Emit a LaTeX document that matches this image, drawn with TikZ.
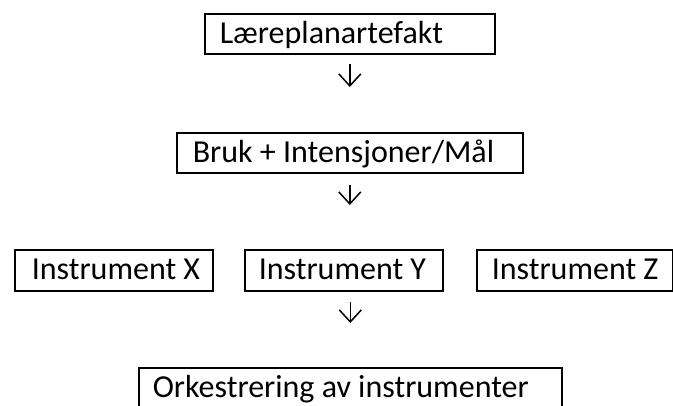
\documentclass[tikz,border=0pt]{standalone}
\usepackage{fontspec}
\setmainfont{Carlito}
\usetikzlibrary{arrows.meta,calc}
\begin{document}
\begin{tikzpicture}[x=1pt,y=-1pt,
  box/.style={draw, line width=1.6pt, anchor=north west, inner ysep=0pt,
    text height=22pt, text depth=3pt, font=\fontsize{32}{38}\selectfont},
  arr/.style={line width=1.5pt, -{Straight Barb[length=12pt,width=22pt]}}]
\clip (0,0) rectangle (673,405);
\fill[white] (0,0) rectangle (673,405);
\node[box, inner xsep=15pt, minimum height=40pt] (b1) at (204,13) {\makebox[260pt][l]{Læreplanartefakt}};
\node[box, inner xsep=16pt, minimum height=40pt] (b2) at (176,132) {\makebox[314pt][l]{Bruk + Intensjoner/Mål}};
\node[box, inner xsep=17pt, minimum height=41pt] (bx) at (14,249) {\makebox[164pt][l]{Instrument X}};
\node[box, inner xsep=14pt, minimum height=41pt] (by) at (244,249) {\makebox[170pt][l]{Instrument Y}};
\node[box, inner xsep=15pt, minimum height=41pt] (bz) at (476,249) {\makebox[166pt][l]{Instrument Z}};
\node[box, inner xsep=14pt, minimum height=40pt] (bo) at (138,367) {\makebox[395pt][l]{Orkestrering av instrumenter}};
\draw[arr, shorten <=9pt, shorten >=45pt] (b1.south) -- (b2.north);
\draw[arr, shorten <=11pt, shorten >=44pt] (b2.south) -- (b2.south |- by.north);
\draw[arr, shorten <=10pt, shorten >=44pt] (bo.north |- by.south) -- (bo.north);
\end{tikzpicture}
\end{document}
